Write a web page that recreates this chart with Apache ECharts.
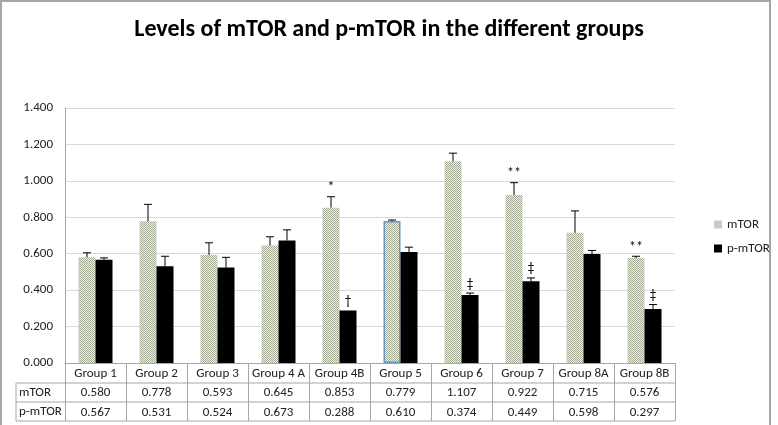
<!DOCTYPE html>
<html><head><meta charset="utf-8">
<script src="https://cdn.jsdelivr.net/npm/echarts@6/dist/echarts.min.js"></script>
<style>html,body{margin:0;padding:0;background:#fff}#c{width:778px;height:425px}</style>
</head><body><div id="c"></div>
<script>
const categories = ['Group 1','Group 2','Group 3','Group 4 A','Group 4B','Group 5','Group 6','Group 7','Group 8A','Group 8B'];
const mTOR = [0.580,0.778,0.593,0.645,0.853,0.779,1.107,0.922,0.715,0.576];
const pmTOR = [0.567,0.531,0.524,0.673,0.288,0.610,0.374,0.449,0.598,0.297];
const mTORErr = [0.025,0.093,0.067,0.048,0.060,0.006,0.045,0.068,0.120,0.010];
const pmTORErr = [0.010,0.055,0.056,0.058,0,0.026,0.010,0.018,0.020,0.024];
const mTORMarks = ['','','','','*','','','**','','**'];
const pmTORMarks = ['','','','','†','','‡','‡','','‡'];
const rowHeaders = ['mTOR','p-mTOR'];

const FONT = 'Carlito, "Liberation Sans Narrow", "Open Sans", sans-serif';

function hatch(){
  const c=document.createElement('canvas');c.width=c.height=2;
  const g=c.getContext('2d');
  g.fillStyle='#eef0e7';g.fillRect(0,0,2,2);
  g.fillStyle='#a3ab94';
  g.fillRect(0,0,1,1);g.fillRect(1,1,1,1);
  return c;
}
const hatchFill={image:hatch(),repeat:'repeat'};

const BW=17;
function errSeries(name, vals, errs, marks, offset){
  return {
    type:'custom', name:name+' err', silent:true, z:5,
    data: vals.map((v,i)=>[i,v,errs[i]]),
    encode:{x:0,y:1},
    renderItem:(params,api)=>{
      const i=api.value(0), v=api.value(1), e=api.value(2);
      const mark=marks[i];
      const base=api.coord([i,v]);
      const top=api.coord([i,v+e]);
      const x=base[0]+offset;
      const children=[];
      if(e>0){
        children.push({type:'line',shape:{x1:x,y1:base[1],x2:x,y2:top[1]},style:{stroke:'#000',lineWidth:1}});
        children.push({type:'line',shape:{x1:x-4,y1:top[1],x2:x+4,y2:top[1]},style:{stroke:'#000',lineWidth:1}});
      }
      if(mark){
        children.push({type:'text',style:{text:mark,x:x,y:top[1]-2,align:'center',verticalAlign:'bottom',fill:'#000',font:'14px '+FONT}});
      }
      return {type:'group',children};
    }
  };
}

const chart=echarts.init(document.getElementById('c'));
chart.setOption({
  animation:false,
  textStyle:{fontFamily:FONT},
  title:{text:'Levels of mTOR and p-mTOR in the different groups',left:'center',top:13,
    textStyle:{fontSize:24,fontWeight:'bold',color:'#000',fontFamily:FONT}},
  legend:{orient:'vertical',left:709,top:213,itemWidth:8,itemHeight:8,itemGap:11,
    textStyle:{fontSize:13,color:'#222',fontFamily:FONT},
    data:[{name:'mTOR',icon:'rect'},{name:'p-mTOR',icon:'rect'}]},
  grid:{left:65,right:103,top:108,bottom:62},
  xAxis:{type:'category',data:categories,
    axisLine:{lineStyle:{color:'#a6a6a6'}},
    axisTick:{show:true,length:58,interval:0,lineStyle:{color:'#a6a6a6'}},
    axisLabel:{interval:0,margin:1,lineHeight:19.3,fontSize:13,color:'#222',fontFamily:FONT,
      formatter:(v,i)=>v+'\n'+mTOR[i].toFixed(3)+'\n'+pmTOR[i].toFixed(3)}},
  yAxis:{type:'value',min:0,max:1.4,interval:0.2,
    axisLine:{show:true,lineStyle:{color:'#a6a6a6'}},axisTick:{show:false},
    splitLine:{lineStyle:{color:'#d9d9d9'}},
    axisLabel:{formatter:v=>v.toFixed(3),fontSize:13,color:'#222',margin:12,fontFamily:FONT}},
  series:[
    {type:'bar',name:'mTOR',barWidth:BW,barGap:'0%',
      itemStyle:{color:hatchFill},
      data:mTOR.map((v,i)=>i===5?{value:v,itemStyle:{borderColor:'#6b97c6',borderWidth:1.5}}:v)},
    {type:'bar',name:'p-mTOR',barWidth:BW,barGap:'0%',itemStyle:{color:'#000'},data:pmTOR},
    errSeries('mTOR',mTOR,mTORErr,mTORMarks,-BW/2),
    errSeries('p-mTOR',pmTOR,pmTORErr,pmTORMarks,BW/2)
  ],
  graphic:[
    {type:'rect',shape:{x:1,y:1,width:769,height:432},style:{fill:'none',stroke:'#a6a6a6',lineWidth:2},silent:true},
    {type:'line',shape:{x1:16,y1:383,x2:675,y2:383},style:{stroke:'#a6a6a6',lineWidth:1}},
    {type:'line',shape:{x1:16,y1:402,x2:675,y2:402},style:{stroke:'#a6a6a6',lineWidth:1}},
    {type:'line',shape:{x1:16,y1:421,x2:675,y2:421},style:{stroke:'#a6a6a6',lineWidth:1}},
    {type:'line',shape:{x1:16,y1:383,x2:16,y2:421},style:{stroke:'#a6a6a6',lineWidth:1}},
    {type:'text',style:{text:rowHeaders[0],x:19,y:392.5,verticalAlign:'middle',fill:'#222',font:'13px '+FONT}},
    {type:'text',style:{text:rowHeaders[1],x:19,y:411.5,verticalAlign:'middle',fill:'#222',font:'13px '+FONT}}
  ]
});
</script></body></html>
